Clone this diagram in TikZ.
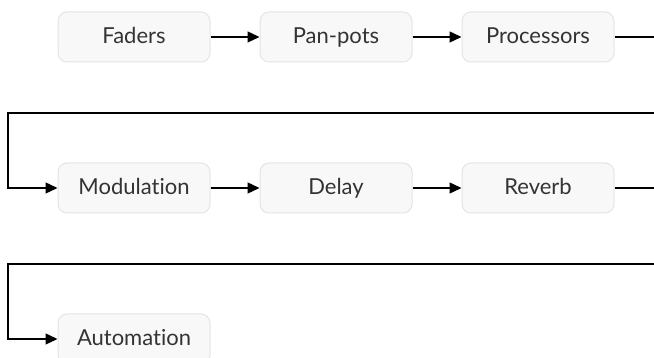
\documentclass[tikz,border=0pt]{standalone}
\usepackage{fontspec}
\setmainfont[Ligatures={NoCommon,NoRare}]{Lato}
\usetikzlibrary{arrows.meta}
\definecolor{boxfill}{HTML}{F8F8F8}
\definecolor{boxline}{HTML}{E4E4E4}
\definecolor{txt}{HTML}{333333}
\tikzset{
  stage/.style={draw=boxline, fill=boxfill, line width=1pt, rounded corners=9pt,
    minimum width=152pt, minimum height=50pt, inner sep=0pt,
    text height=17pt, text depth=3pt,
    text=txt, font=\fontsize{22}{26}\selectfont},
  flow/.style={draw=black, line width=1.4pt, -{Triangle[length=12pt,width=11pt]}},
}
\begin{document}
\begin{tikzpicture}[x=1pt,y=-1pt]
  \useasboundingbox (0,0) rectangle (654,358);
  \clip (0,0) rectangle (654,358);

  % first row
  \node[stage] (fad) at (134,37) {Faders};
  \node[stage] (pan) at (336,37) {Pan-pots};
  \node[stage] (pro) at (538,37) {Processors};
  % second row
  \node[stage] (mod) at (134,188) {Modulation};
  \node[stage] (del) at (336,188) {Delay};
  \node[stage] (rev) at (538,188) {Reverb};
  % third row
  \node[stage] (aut) at (134,339) {Automation};

  % turn points of the wrap-around lines
  \coordinate (r1) at (700,37);
  \coordinate (r1b) at (700,113);
  \coordinate (l1) at (8,113);
  \coordinate (r2) at (700,188);
  \coordinate (r2b) at (700,264);
  \coordinate (l2) at (8,264);

  \draw[flow] (fad) -- (pan);
  \draw[flow] (pan) -- (pro);
  \draw[flow] (pro.east) -- (r1) -- (r1b) -- (l1) |- (mod.west);
  \draw[flow] (mod) -- (del);
  \draw[flow] (del) -- (rev);
  \draw[flow] (rev.east) -- (r2) -- (r2b) -- (l2) |- (aut.west);
\end{tikzpicture}
\end{document}
